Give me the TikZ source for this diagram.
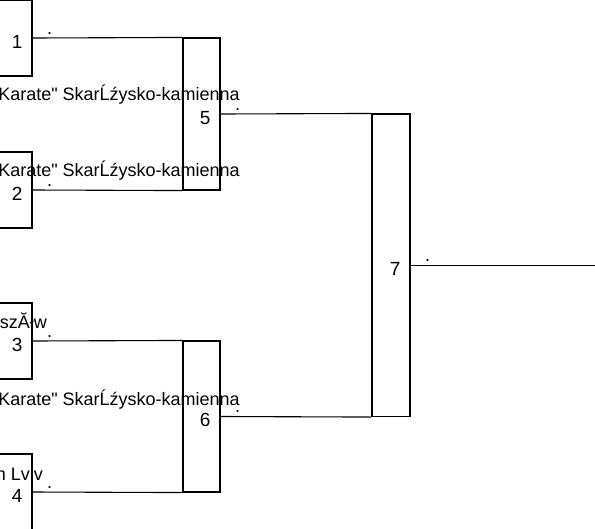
\documentclass[tikz,border=0pt]{standalone}
\usepackage{fontspec}
\setmainfont{Liberation Sans}
\usetikzlibrary{positioning,calc}

\begin{document}
\begin{tikzpicture}[x=1pt, y=-1pt,
  match/.style={draw=black, line width=1.1pt, minimum width=37pt, inner sep=0pt},
  seed/.style={match, minimum height=76pt},
  num/.style={font=\fontsize{19}{19}\selectfont, anchor=base east, inner sep=0pt},
  team/.style={font=\fontsize{18}{18}\selectfont, anchor=base east, inner sep=0pt},
  dot/.style={font=\fontsize{18}{18}\selectfont, anchor=base, inner sep=0pt},
  wire/.style={draw=black, line width=1.1pt}]
  \useasboundingbox (0,0) rectangle (595,528);
  \clip (0,0) rectangle (595,528);
  % first round
  \foreach \i/\y in {1/38,2/190,3/341,4/492} {
    \node[seed] (m\i) at (13.5,\y) {};
    \node[num] (n\i) at ($(m\i.east)+(-10,10)$) {\i};
    \node[dot] (d\i) at ($(m\i.east)+(17,-4)$) {.};
  }
  % semifinals
  \node[match, minimum height=152pt] (m5) at (201.5,114) {};
  \node[match, minimum height=151pt] (m6) at (201.5,416.5) {};
  \foreach \i in {5,6} {
    \node[num] (n\i) at ($(m\i.east)+(-10,10)$) {\i};
    \node[dot] (d\i) at ($(m\i.east)+(17,-4)$) {.};
  }
  % final
  \node[match, minimum width=38pt, minimum height=302.5pt] (m7) at (391,265.25) {};
  \node[num] (n7) at ($(m7.east)+(-10,10)$) {7};
  \node[dot] (d7) at ($(m7.east)+(17,-4)$) {.};
  \coordinate (out) at (595,265.25);
  % team names
  \node[team] (t5) at (240,100) {Karate\textquotedbl{} SkarĹźysko-kamienna};
  \node[team] (t2) at (240,176) {Karate\textquotedbl{} SkarĹźysko-kamienna};
  \node[team] (t3) at (47,328) {szĂłw};
  \node[team] (t6) at (240,405) {Karate\textquotedbl{} SkarĹźysko-kamienna};
  \node[team] (t4) at (43,480) {n Lviv};
  % connectors
  \draw[wire] (m1.east) -- (m5.north west);
  \draw[wire] (m2.east) -- (m5.south west);
  \draw[wire] (m3.east) -- (m6.north west);
  \draw[wire] (m4.east) -- (m6.south west);
  \draw[wire] (m5.east) -- (m7.north west);
  \draw[wire] (m6.east) -- (m7.south west);
  \draw[wire] (m7.east) -- (out);
\end{tikzpicture}
\end{document}
